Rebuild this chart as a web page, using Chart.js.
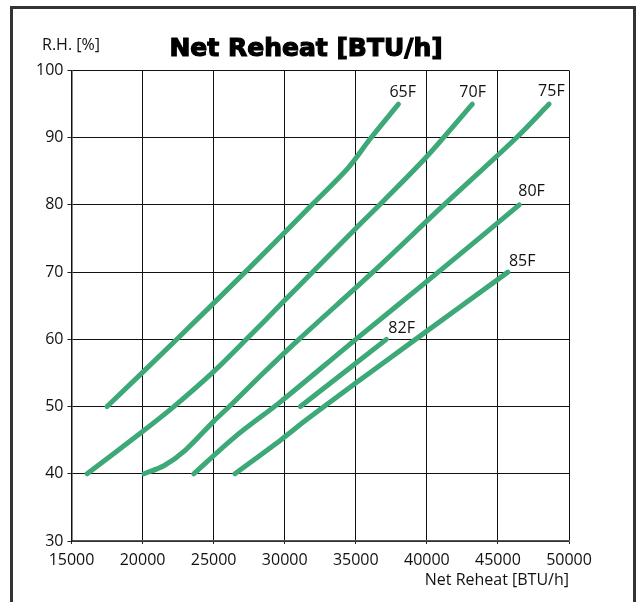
<!DOCTYPE html>
<html>
<head>
<meta charset="utf-8">
<script src="https://cdn.jsdelivr.net/npm/chart.js@4"></script>
<style>
  html, body { margin: 0; padding: 0; background: #fff; overflow: hidden; }
  #frame { position: absolute; left: 10px; top: 6px; width: 620px; height: 700px;
           border: 3px solid #333; border-bottom: none; }
  #wrap { position: absolute; left: 0; top: 0; width: 637px; height: 602px; }
</style>
</head>
<body>
<div id="frame"></div>
<div id="wrap"><canvas id="myChart"></canvas></div>
<script>
// Net reheat curves.
const curveNames = ["65F", "70F", "75F", "80F", "82F", "85F"];

const reheat65 = [17500, 22500, 27500, 32000, 34500, 36000, 38000];
const rh65 = [50, 60.2, 70.6, 80.2, 85.6, 89.8, 95];

const reheat70 = [16100, 20000, 22200, 25000, 27300, 30000, 32000, 35000, 37000, 40000, 43200];
const rh70 = [40, 46.3, 50, 55.2, 60, 65.8, 70.1, 76.5, 80.7, 87.2, 95];

const reheat75 = [20100, 21500, 23000, 25000, 26100, 28500, 31000, 36200, 41200, 46300, 48600];
const rh75 = [40, 41.2, 43.5, 47.8, 50, 55, 60, 70, 80, 90, 95];

const reheat80 = [23600, 26500, 29700, 35000, 40800, 46500];
const rh80 = [40, 45.5, 50.7, 60, 70, 80];

const reheat82 = [31100, 37150];
const rh82 = [50, 60];

const reheat85 = [26500, 29700, 31500, 35000, 39200, 45700];
const rh85 = [40, 45, 48, 53.5, 60, 70];

const xTicks = [15000, 20000, 25000, 30000, 35000, 40000, 45000, 50000];
const yTicks = [30, 40, 50, 60, 70, 80, 90, 100];

const curveX = [reheat65, reheat70, reheat75, reheat80, reheat82, reheat85];
const curveY = [rh65, rh70, rh75, rh80, rh82, rh85];

// where each curve label sits relative to the curve's last point (px)
const labelShift = [[-9, -12], [-13, -12], [-11, -13], [-1, -13], [2, -11], [1, -11]];

const green = "#3da878";
const textFont = "'Open Sans', sans-serif";

var ctx = document.getElementById("myChart");

const pairs = (xs, ys) => xs.map((x, i) => ({ x: x, y: ys[i] }));

const chartText = {
  id: "chartText",
  afterDraw(chart) {
    const c = chart.ctx;
    const sx = chart.scales.x, sy = chart.scales.y;
    c.save();
    c.fillStyle = "#000";
    c.strokeStyle = "#000";
    c.lineWidth = 1.2;
    c.textBaseline = "middle";
    c.textAlign = "center";
    c.font = "bold 25px 'DejaVu Sans', sans-serif";
    c.fillText("Net Reheat [BTU/h]", 306, 49);
    c.strokeText("Net Reheat [BTU/h]", 306, 49);
    c.textAlign = "left";
    c.font = "16px " + textFont;
    c.fillStyle = "#111";
    c.fillText("R.H. [%]", 42, 45);
    chart.data.datasets.forEach((ds, i) => {
      const last = ds.data[ds.data.length - 1];
      const px = sx.getPixelForValue(last.x);
      const py = sy.getPixelForValue(last.y);
      c.fillText(ds.label, px + labelShift[i][0], py + labelShift[i][1]);
    });
    c.restore();
  },
};

var myChart = new Chart(ctx, {
  type: "line",
  data: {
    datasets: curveNames.map((name, i) => ({
      label: name,
      data: pairs(curveX[i], curveY[i]),
      borderColor: green,
      backgroundColor: green,
      borderWidth: 5,
      borderCapStyle: "round",
      borderJoinStyle: "round",
      tension: 0.3,
      pointRadius: 0,
      fill: false,
    })),
  },
  options: {
    responsive: true,
    maintainAspectRatio: false,
    animation: false,
    layout: { padding: { top: 70.5, right: 68, left: 0, bottom: 0 } },
    plugins: {
      legend: { display: false },
      tooltip: { enabled: false },
      title: { display: false },
    },
    scales: {
      x: {
        type: "linear",
        min: 15000,
        max: 50000,
        afterFit: (s) => { s.height = 61; },
        afterBuildTicks: (s) => { s.ticks = xTicks.map((v) => ({ value: v })); },
        ticks: {
          color: "#111",
          padding: 7,
          maxRotation: 0,
          font: { family: textFont, size: 16 },
          callback: (v) => String(v),
        },
        grid: {
          color: "#111",
          lineWidth: 1,
          borderDash: [1, 1],
          tickColor: "#222",
          tickLength: 3,
          tickBorderDash: [],
        },
        border: { color: "#555", width: 1.5 },
        title: {
          display: true,
          text: "Net Reheat [BTU/h]",
          align: "end",
          color: "#111",
          font: { family: textFont, size: 16 },
          padding: { top: 12, bottom: 12 },
        },
      },
      y: {
        type: "linear",
        min: 30,
        max: 100,
        afterFit: (s) => { s.width = 71.5; },
        afterBuildTicks: (s) => { s.ticks = yTicks.map((v) => ({ value: v })); },
        ticks: {
          color: "#111",
          padding: 4,
          font: { family: textFont, size: 16 },
        },
        grid: {
          color: "#111",
          lineWidth: 1,
          borderDash: [1, 1],
          tickColor: "#222",
          tickLength: 4,
          tickBorderDash: [],
        },
        border: { color: "#111", width: 1.5 },
      },
    },
  },
  plugins: [chartText],
});
</script>
</body>
</html>
